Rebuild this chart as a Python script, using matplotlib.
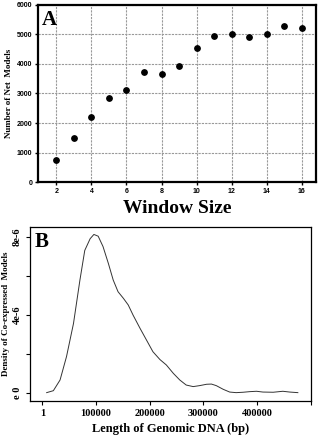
import matplotlib
matplotlib.use("Agg")
import matplotlib.pyplot as plt

# Panel A data
window_size = [2, 3, 4, 5, 6, 7, 8, 9, 10, 11, 12, 13, 14, 15, 16]
net_models = [745, 1510, 2190, 2850, 3110, 3740, 3650, 3945, 4555, 4960, 5020, 4915, 5020, 5300, 5220]

# Panel B data (density curve)
dna_len = [8000, 20500, 33000, 45000, 58000, 70000, 79000, 89000, 96000, 104000, 113000, 123000,
           132000, 141000, 151000, 160000, 169000, 182000, 194000, 206000, 219000, 231000, 244000,
           256000, 268000, 281000, 293000, 306000, 315000, 324000, 337000, 349000, 361000, 374000,
           386000, 399000, 411000, 430000, 448000, 461000, 476000]
density = [0.0, 0.1, 0.65, 1.85, 3.55, 5.78, 7.3, 7.9, 8.12, 8.03, 7.5, 6.63, 5.78, 5.18, 4.84,
           4.5, 3.98, 3.3, 2.7, 2.1, 1.7, 1.42, 0.99, 0.65, 0.39, 0.31, 0.36, 0.43, 0.44, 0.36,
           0.17, 0.03, 0.0, 0.02, 0.05, 0.07, 0.03, 0.02, 0.07, 0.03, 0.0]
density = [d * 1e-6 for d in density]

xticksA = [2, 4, 6, 8, 10, 12, 14, 16]
yticksA = [0, 1000, 2000, 3000, 4000, 5000, 6000]
xticksB = [1, 100000, 200000, 300000, 400000, 500000]
xticklabelsB = ["1", "100000", "200000", "300000", "400000", ""]
yticksB = [0, 2e-6, 4e-6, 6e-6, 8e-6]
yticklabelsB = ["e 0", "", "4e-6", "", "8e-6"]

serif = "Liberation Serif"
sans = "Liberation Sans"

fig = plt.figure(figsize=(3.21, 4.40), dpi=100)

# ---- Panel A ----
axA = fig.add_axes([0.118, 0.586, 0.866, 0.403])
axA.scatter(window_size, net_models, s=15, color="black", zorder=3)
axA.set_xlim(0.95, 16.8)
axA.set_ylim(0, 6000)
axA.set_xticks(xticksA)
axA.set_yticks(yticksA)
axA.grid(True, color="#999999", linestyle=(0, (2, 1)), linewidth=0.8)
axA.set_axisbelow(True)
for sp in axA.spines.values():
    sp.set_linewidth(1.6)
axA.tick_params(axis="both", length=2.5, width=1, pad=1.5, labelsize=5)
for lab in axA.get_xticklabels() + axA.get_yticklabels():
    lab.set_fontfamily(sans)
    lab.set_fontweight("bold")
axA.set_xlabel("Window Size", fontfamily=serif, fontweight="bold", fontsize=14, labelpad=4)
axA.set_ylabel("Number of Net  Models", fontfamily=serif, fontweight="bold", fontsize=6.5, labelpad=3)
axA.text(0.015, 0.97, "A", transform=axA.transAxes, ha="left", va="top",
         fontfamily=serif, fontweight="bold", fontsize=15)

# ---- Panel B ----
axB = fig.add_axes([0.0935, 0.0886, 0.8745, 0.3954])
axB.plot(dna_len, density, color="#333333", linewidth=0.7)
axB.set_xlim(-23000, 500000)
axB.set_ylim(-0.43e-6, 8.5e-6)
axB.set_xticks(xticksB)
axB.set_xticklabels(xticklabelsB)
axB.set_yticks(yticksB)
axB.set_yticklabels(yticklabelsB, rotation=90, va="center", ha="center")
for sp in axB.spines.values():
    sp.set_linewidth(0.9)
axB.tick_params(axis="both", length=3, width=0.8, labelsize=7.5)
axB.tick_params(axis="x", pad=3)
axB.tick_params(axis="y", pad=6)
for lab in axB.get_xticklabels() + axB.get_yticklabels():
    lab.set_fontfamily(serif)
    lab.set_fontweight("bold")
axB.set_xlabel("Length of Genomic DNA (bp)", fontfamily=serif, fontweight="bold", fontsize=9, labelpad=3)
axB.set_ylabel("Density of Co-expressed  Models", fontfamily=serif, fontweight="bold", fontsize=6.5, labelpad=2)
axB.text(0.015, 0.97, "B", transform=axB.transAxes, ha="left", va="top",
         fontfamily=serif, fontweight="bold", fontsize=15)

fig.savefig("out.png", dpi=100)
